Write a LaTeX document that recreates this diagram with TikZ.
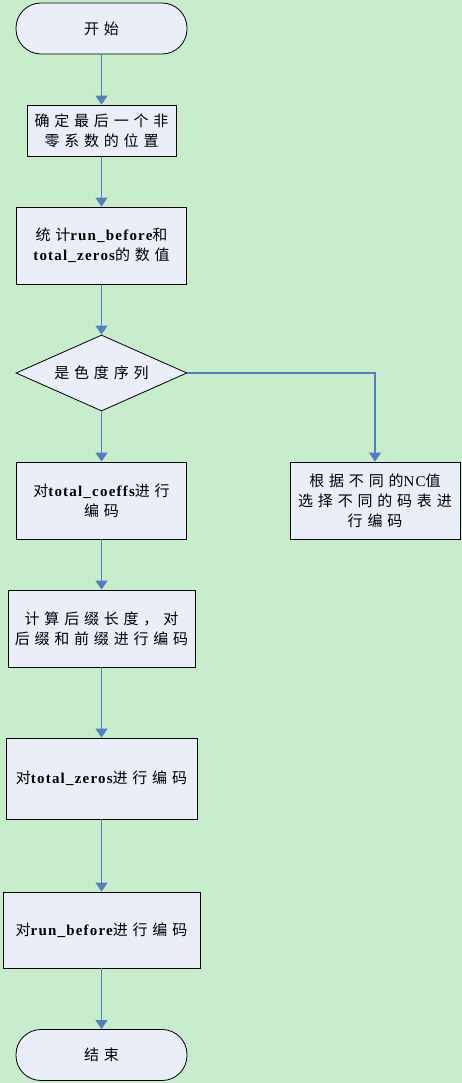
\documentclass[tikz,border=0pt]{standalone}
\usepackage{fontspec}
\setmainfont{Noto Sans CJK SC}[LetterSpace=32]
\newfontfamily\lat{Liberation Serif}[LetterSpace=8]
\usetikzlibrary{arrows.meta,shapes.geometric}
\definecolor{fondo}{RGB}{199,237,204}
\definecolor{azulclaro}{RGB}{233,238,248}
\definecolor{azul}{RGB}{79,129,189}
\newcommand{\cod}[1]{{\lat\bfseries #1}}
\begin{document}
\begin{tikzpicture}[
    x=1pt,
    y=-1pt,
    caja/.style={draw, fill=azulclaro, line width=0.8pt, align=center, inner sep=0pt,
        font=\fontsize{15}{20}\selectfont},
    terminal/.style={caja, rounded corners=25pt, minimum width=171, minimum height=51},
    decision/.style={caja, diamond, shape aspect=2.25, minimum width=171, minimum height=76},
    flecha/.style={draw=azul, line width=1.2pt, -{Triangle[width=12pt,length=9pt]}}
]

% Fondo
\fill[fondo] (0,0) rectangle (462,1083);
\useasboundingbox (0,0) rectangle (462,1083);

% Pasos
\node[terminal] (inicio) at (101.5,28.5) {开始};
\node[caja, minimum width=149, minimum height=51] (ultimo) at (101.5,130.5)
    {确定最后一个非\\零系数的位置};
\node[caja, minimum width=170, minimum height=77] (contar) at (101.5,245.5)
    {统计\cod{run\_before}和\\\cod{total\_zeros}的数值};
\node[decision] (croma) at (101.5,373) {是色度序列};
\node[caja, minimum width=170, minimum height=77] (coefs) at (101.5,500.5)
    {对\cod{total\_coeffs}进行\\编码};
\node[caja, minimum width=170, minimum height=77] (tabla) at (375,500.5)
    {根据不同的{\lat NC}值\\选择不同的码表进\\行编码};
\node[caja, minimum width=187, minimum height=77] (sufijo) at (101.5,628.5)
    {计算后缀长度，对\\后缀和前缀进行编码};
\node[caja, minimum width=191, minimum height=81] (ceros) at (101.5,778.5)
    {对\cod{total\_zeros}进行编码};
\node[caja, minimum width=197, minimum height=76] (corridas) at (101.5,930)
    {对\cod{run\_before}进行编码};
\node[terminal] (fin) at (101.5,1055) {结束};

% Flechas
\foreach \a/\b in {inicio/ultimo, ultimo/contar, contar/croma, croma/coefs,
    coefs/sufijo, sufijo/ceros, ceros/corridas, corridas/fin}
    \draw[flecha] (\a) -- (\b);
\draw[flecha] (croma.east) -| (tabla.north);

\end{tikzpicture}
\end{document}
